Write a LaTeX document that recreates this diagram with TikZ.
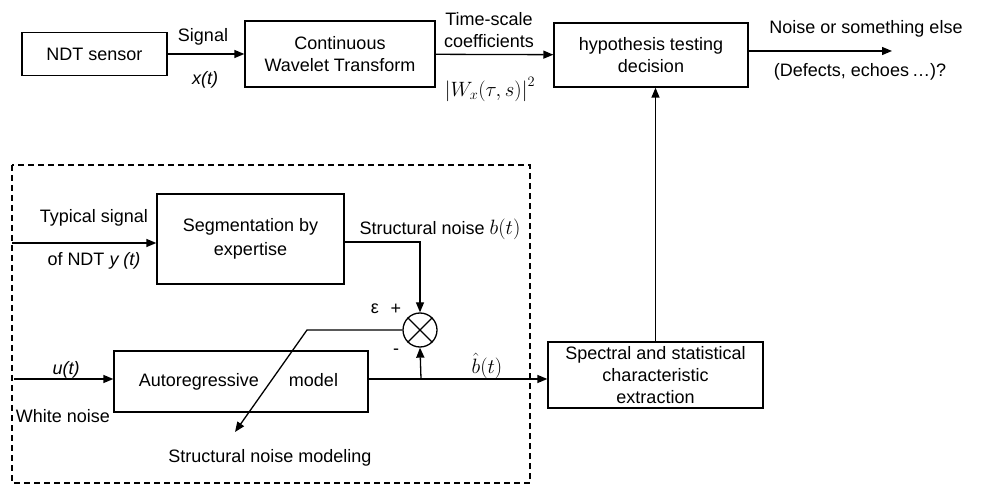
\documentclass[tikz,border=0pt]{standalone}
\usepackage{fontspec}
\setmainfont{Liberation Sans}
\usepackage{amsmath}
\usepackage{xcolor}
\usepackage{tikz}
\usetikzlibrary{arrows.meta}

\begin{document}
\begin{tikzpicture}[
    x=1pt,
    y=-1pt,
    every node/.style={font=\fontsize{18}{22}\selectfont},
    block/.style={
        draw,
        line width=1.3pt,
        align=center,
        inner sep=0pt
    },
    arrow/.style={
        -{Triangle[length=10pt,width=8pt]},
        line width=1.3pt,
        black
    },
    label/.style={
        align=center,
        inner sep=1pt,
        text=black
    },
    mathlabel/.style={
        label,
        font=\fontsize{20}{24}\selectfont
    }
]
    \useasboundingbox (0,0) rectangle (983,486);

    % frame of the structural noise modeling part
    \draw[line width=1.3pt, dash pattern=on 6pt off 4pt] (12,165) rectangle (530,483);

    \node[block, minimum width=145pt, minimum height=43pt] (sensor) at (94.5,54) {NDT sensor};
    \node[block, minimum width=190pt, minimum height=66pt] (cwt) at (340,54) {
        Continuous\\
        Wavelet Transform
    };
    \node[block, minimum width=194pt, minimum height=64pt] (hyp) at (651,55) {
        hypothesis testing\\
        decision
    };
    \node[block, minimum width=187pt, minimum height=90pt] (seg) at (250.5,239) {
        Segmentation by\\[2pt]
        expertise
    };
    \node[block, minimum width=254pt, minimum height=61pt] (ar) at (241,381.5) {
        Autoregressive\hspace{30pt}model
    };
    \node[block, minimum width=215pt, minimum height=66pt] (spec) at (655.5,375) {
        Spectral and statistical\\
        characteristic\\
        extraction
    };
    \node[draw, circle, line width=1.3pt, minimum size=34pt, inner sep=0pt] (sum) at (420,330) {};
    \draw[line width=1.3pt] (sum.north west) -- (sum.south east)
                            (sum.north east) -- (sum.south west);

    \coordinate (out) at (892,51);
    \coordinate (yin) at (12,243);
    \coordinate (uin) at (14,379);
    \coordinate (bh) at (421,379);
    \coordinate (bend) at (307,330);
    \coordinate (model) at (235,432);

    \draw[arrow] (sensor) -- (cwt);
    \draw[arrow] (cwt) -- (hyp);
    \draw[arrow] (hyp.east |- out) -- (out);
    \draw[arrow] (spec.north) -- (spec.north |- hyp.south);
    \draw[arrow] (yin) -- (yin -| seg.west);
    \draw[arrow] (seg.east |- 0,242) -| (sum.north);
    \draw[arrow] (uin) -- (uin -| ar.west);
    \draw[arrow] (ar.east |- bh) -- (bh -| spec.west);
    \draw[arrow] (bh) -- (sum.south);
    \draw[arrow] (sum.west) -- (bend) -- (model);

    \node[label] (signal) at (203,37) {Signal};
    \node[label] (xt) at (205,80) {\textit{x(t)}};
    \node[label] (coef) at (489,30) {Time-scale\\coefficients};
    \node[mathlabel] (wx) at (490,89) {$\left|W_x(\tau,s)\right|^2$};
    \node[label] (noise) at (866,29) {Noise or something else};
    \node[label] (defects) at (860,72) {(Defects, echoes\,\ldots)?};
    \node[label] (typical) at (94,218) {Typical signal};
    \node[label] (ndt) at (94,261) {of NDT \textit{y (t)}};
    \node[label] (bt) at (440,229) {Structural noise {\fontsize{20}{24}\selectfont$b(t)$}};
    \node[label] (eps) at (375,309) {ε};
    \node[label] (plus) at (396,309) {+};
    \node[label] (minus) at (396,352) {-};
    \node[mathlabel] (bhat) at (487,366) {$\hat{b}(t)$};
    \node[label] (ut) at (66,370) {\textit{u(t)}};
    \node[label] (white) at (63,416) {White noise};
    \node[label] (modeling) at (270,458) {Structural noise modeling};
\end{tikzpicture}
\end{document}
